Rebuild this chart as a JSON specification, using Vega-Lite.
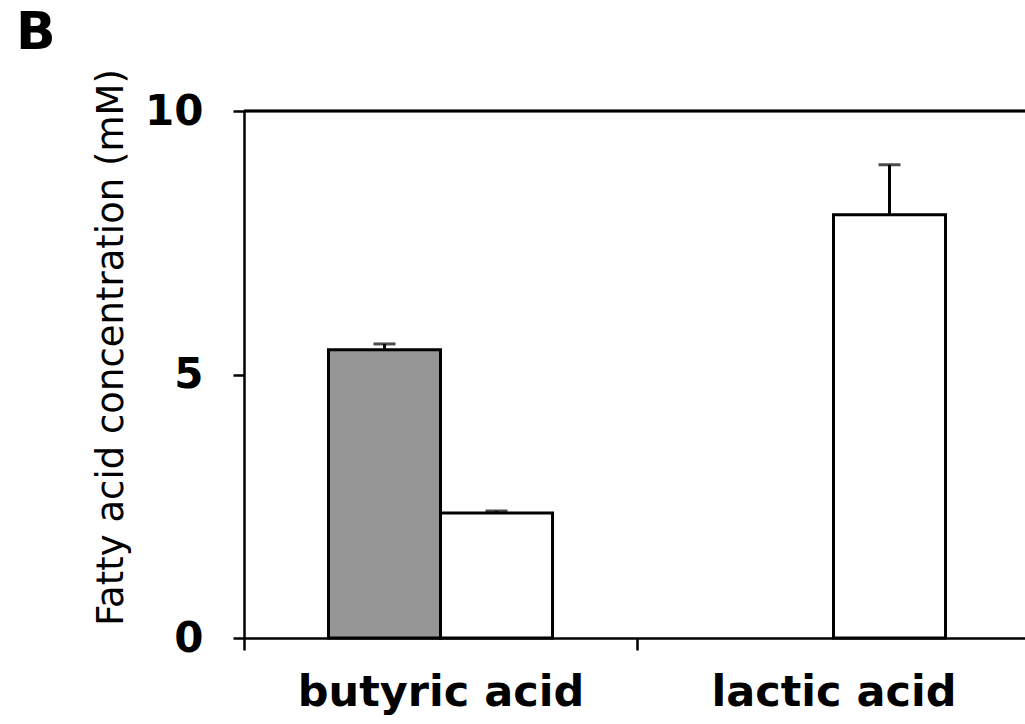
{
  "$schema": "https://vega.github.io/schema/vega-lite/v6.json",
  "width": 781,
  "height": 527,
  "autosize": {"type": "none"},
  "padding": {"left": 244, "top": 111, "right": 0, "bottom": 86},
  "background": "white",
  "config": {
    "view": {"stroke": null},
    "font": "DejaVu Sans"
  },
  "title": {
    "text": "B",
    "anchor": "start",
    "frame": "group",
    "font": "DejaVu Sans",
    "fontWeight": "bold",
    "fontSize": 52,
    "color": "black",
    "baseline": "alphabetic",
    "dx": -228,
    "dy": 36
  },
  "data": {
    "values": [
      {"acid": "butyric acid", "group": "A", "value": 5.47, "upper": 5.58},
      {"acid": "butyric acid", "group": "B", "value": 2.37, "upper": 2.41},
      {"acid": "lactic acid", "group": "B", "value": 8.03, "upper": 8.98}
    ]
  },
  "layer": [
    {
      "mark": {"type": "rule", "color": "black", "strokeWidth": 2.5},
      "encoding": {"y": {"datum": 10, "type": "quantitative"}}
    },
    {
      "mark": {"type": "bar", "stroke": "black", "strokeWidth": 3},
      "encoding": {
        "x": {
          "field": "acid",
          "type": "nominal",
          "scale": {"domain": ["butyric acid", "lactic acid"], "paddingInner": 0, "paddingOuter": 0, "range": [0, 786]},
          "axis": {
            "title": null,
            "labelAngle": 0,
            "labelLimit": 0,
            "tickBand": "extent",
            "tickSize": 12,
            "tickWidth": 2.5,
            "tickColor": "black",
            "domainColor": "black",
            "domainWidth": 2.5,
            "labelFont": "DejaVu Sans",
            "labelFontWeight": "bold",
            "labelFontSize": 43,
            "labelColor": "black",
            "labelPadding": 21
          }
        },
        "xOffset": {
          "field": "group",
          "type": "nominal",
          "scale": {"domain": ["A", "B"], "paddingInner": 0, "paddingOuter": 0.754}
        },
        "y": {
          "field": "value",
          "type": "quantitative",
          "scale": {"domain": [0, 10], "nice": false, "zero": true},
          "axis": {
            "title": "Fatty acid concentration (mM)",
            "values": [0, 5, 10],
            "grid": false,
            "tickSize": 11,
            "tickWidth": 2.5,
            "tickColor": "black",
            "domainColor": "black",
            "domainWidth": 2.5,
            "labelFont": "DejaVu Sans",
            "labelFontWeight": "bold",
            "labelFontSize": 42,
            "labelColor": "black",
            "labelPadding": 30,
            "titleFont": "DejaVu Sans",
            "titleFontWeight": "normal",
            "titleFontSize": 37,
            "titleColor": "black",
            "titleAngle": -90,
            "titleAlign": "center",
            "titleBaseline": "middle",
            "titleX": -133,
            "titleY": 236
          }
        },
        "fill": {
          "field": "group",
          "type": "nominal",
          "scale": {"domain": ["A", "B"], "range": ["#969696", "#ffffff"]},
          "legend": null
        }
      }
    },
    {
      "mark": {"type": "rule", "color": "black", "strokeWidth": 3},
      "encoding": {
        "x": {"field": "acid", "type": "nominal"},
        "xOffset": {"field": "group", "type": "nominal"},
        "y": {"field": "upper", "type": "quantitative"},
        "y2": {"field": "value"}
      }
    },
    {
      "mark": {"type": "tick", "color": "black", "thickness": 3, "size": 22, "orient": "horizontal"},
      "encoding": {
        "x": {"field": "acid", "type": "nominal"},
        "xOffset": {"field": "group", "type": "nominal"},
        "y": {"field": "upper", "type": "quantitative"}
      }
    }
  ]
}
